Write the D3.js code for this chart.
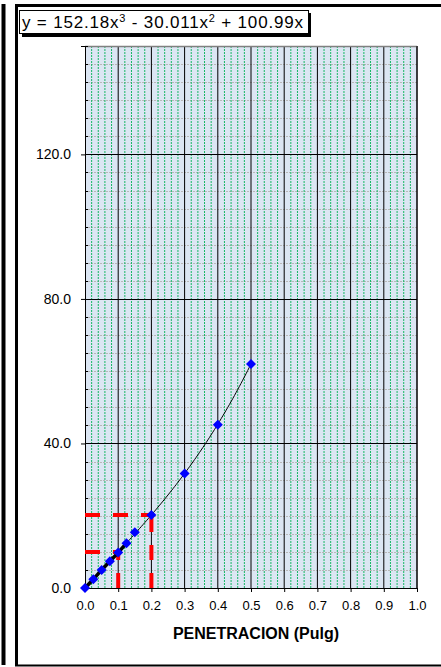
<!DOCTYPE html>
<html>
<head>
<meta charset="utf-8">
<script src="https://cdn.jsdelivr.net/npm/d3@7"></script>
<style>
  html, body { margin: 0; padding: 0; background: #fff; }
  svg { display: block; font-family: Arial, "Liberation Sans", sans-serif; }
</style>
</head>
<body>
<svg id="chart" width="441" height="667"></svg>
<script>
// Ensayo de penetración: lecturas de carga vs penetración
const penetracion = [0, 0.025, 0.05, 0.075, 0.1, 0.125, 0.15, 0.2, 0.3, 0.4, 0.5];
const carga       = [0, 2.4, 5.0, 7.4, 9.8, 12.4, 15.4, 20.2, 31.7, 45.2, 62.0];

// Coeficientes del ajuste polinómico (x^3, x^2, x)
const coefs = [152.18, -30.011, 100.99];

// Penetraciones de referencia (0.1" y 0.2")
const penRef = [0.1, 0.2];

// Ticks
const xTicks = [0, 0.1, 0.2, 0.3, 0.4, 0.5, 0.6, 0.7, 0.8, 0.9, 1.0];
const yTicks = [0, 40, 80, 120];

const fit = x => coefs[0] * x * x * x + coefs[1] * x * x + coefs[2] * x;

const svg = d3.select("#chart");
const x = d3.scaleLinear().domain([0, 1]).range([85, 417]);
const y = d3.scaleLinear().domain([0, 150]).range([588, 46]);

// Outer frames
svg.append("line").attr("x1", 3.5).attr("x2", 3.5).attr("y1", 4).attr("y2", 665)
  .attr("stroke", "#000").attr("stroke-width", 4);
svg.append("line").attr("x1", 16.5).attr("x2", 16.5).attr("y1", 4).attr("y2", 666)
  .attr("stroke", "#000").attr("stroke-width", 3);
svg.append("line").attr("x1", 15).attr("x2", 441).attr("y1", 5.5).attr("y2", 5.5)
  .attr("stroke", "#000").attr("stroke-width", 3);
svg.append("line").attr("x1", 15).attr("x2", 441).attr("y1", 665.5).attr("y2", 665.5)
  .attr("stroke", "#000").attr("stroke-width", 2);

// Plot background
svg.append("rect")
  .attr("x", x(0)).attr("y", y(150))
  .attr("width", x(1) - x(0)).attr("height", y(0) - y(150))
  .attr("fill", "#dce6f3");

// Minor horizontal grid (every 5)
const yMinor = d3.range(5, 150.1, 5).filter(v => v % 40 !== 0);
svg.append("g").selectAll("line").data(yMinor).join("line")
  .attr("x1", x(0)).attr("x2", x(1))
  .attr("y1", d => Math.round(y(d)) + 0.5).attr("y2", d => Math.round(y(d)) + 0.5)
  .attr("stroke", "#b8b8b8").attr("stroke-width", 1).attr("stroke-dasharray", "2,1");

// Minor vertical grid (every 0.02)
const xMinor = d3.range(0.02, 1.0, 0.02).filter(v => Math.abs(v * 10 - Math.round(v * 10)) > 1e-6);
svg.append("g").selectAll("line").data(xMinor).join("line")
  .attr("x1", d => x(d)).attr("x2", d => x(d))
  .attr("y1", y(150)).attr("y2", y(0))
  .attr("stroke", "#17b765").attr("stroke-width", 1).attr("stroke-dasharray", "2,1");

// Major vertical grid
svg.append("g").selectAll("line").data(xTicks.slice(1)).join("line")
  .attr("x1", d => x(d)).attr("x2", d => x(d))
  .attr("y1", y(150)).attr("y2", y(0))
  .attr("stroke", "#000").attr("stroke-width", 1);

// Major horizontal grid
svg.append("g").selectAll("line").data(yTicks.slice(1)).join("line")
  .attr("x1", x(0)).attr("x2", x(1))
  .attr("y1", d => Math.round(y(d)) + 0.5).attr("y2", d => Math.round(y(d)) + 0.5)
  .attr("stroke", "#000").attr("stroke-width", 1);

// Plot top border
svg.append("line").attr("x1", x(0)).attr("x2", x(1))
  .attr("y1", y(150) + 0.5).attr("y2", y(150) + 0.5)
  .attr("stroke", "#808080").attr("stroke-width", 1.5);

// Y axis
const yAxis = d3.axisLeft(y).tickValues(yTicks).tickFormat(d3.format(".1f"))
  .tickSize(4).tickPadding(10);
const gy = svg.append("g").attr("transform", `translate(${x(0)},0)`).call(yAxis);
gy.select(".domain").attr("stroke", "#000");
gy.selectAll(".tick text").attr("font-size", 14).attr("fill", "#000")
  .attr("font-family", "Arial, 'Liberation Sans', sans-serif");
// minor ticks inside
gy.append("g").selectAll("line").data(yMinor).join("line")
  .attr("x1", 0).attr("x2", 3)
  .attr("y1", d => Math.round(y(d)) + 0.5).attr("y2", d => Math.round(y(d)) + 0.5)
  .attr("stroke", "#000");

// X axis
const xAxis = d3.axisBottom(x).tickValues(xTicks).tickFormat(d3.format(".1f"))
  .tickSize(4).tickPadding(9);
const gx = svg.append("g").attr("transform", `translate(0,${y(0)})`).call(xAxis);
gx.select(".domain").attr("stroke", "#000");
gx.selectAll(".tick text").attr("font-size", 13).attr("fill", "#000")
  .attr("font-family", "Arial, 'Liberation Sans', sans-serif");

// Right border
svg.append("line").attr("x1", x(1)).attr("x2", x(1))
  .attr("y1", y(150)).attr("y2", y(0)).attr("stroke", "#000");

// X axis title
svg.append("text").attr("x", 256).attr("y", 639).attr("text-anchor", "middle")
  .attr("font-size", 16).attr("font-weight", "bold").text("PENETRACION (Pulg)");

// Reference lines at 0.1" and 0.2"
const ref = svg.append("g");
penRef.forEach(p => {
  ref.append("line").attr("x1", x(0)).attr("x2", x(p))
    .attr("y1", y(fit(p))).attr("y2", y(fit(p)))
    .attr("stroke", "#ff0000").attr("stroke-width", 4).attr("stroke-dasharray", "15,13");
  ref.append("line").attr("x1", x(p)).attr("x2", x(p))
    .attr("y1", y(0)).attr("y2", y(fit(p)))
    .attr("stroke", "#ff0000").attr("stroke-width", 4).attr("stroke-dasharray", "15,13");
});

// Fitted curve
const curvePts = d3.range(0, 0.5001, 0.005).map(v => [v, fit(v)]);
svg.append("path").datum(curvePts)
  .attr("fill", "none").attr("stroke", "#000").attr("stroke-width", 1)
  .attr("d", d3.line().x(d => x(d[0])).y(d => y(d[1])));

// Initial readings line
const pts = penetracion.map((p, i) => [p, carga[i]]);
svg.append("path").datum(pts.filter(d => d[0] <= 0.125))
  .attr("fill", "none").attr("stroke", "#000").attr("stroke-width", 3.5)
  .attr("d", d3.line().x(d => x(d[0])).y(d => y(d[1])));

// Data markers
svg.append("g").selectAll("path").data(pts).join("path")
  .attr("transform", d => `translate(${x(d[0])},${y(d[1])})`)
  .attr("d", "M0,-5L5,0L0,5L-5,0Z")
  .attr("fill", "#0000ff");

// Equation box
svg.append("rect").attr("x", 22).attr("y", 13).attr("width", 289).attr("height", 24).attr("fill", "#000");
svg.append("rect").attr("x", 19.5).attr("y", 10.5).attr("width", 289).attr("height", 23)
  .attr("fill", "#fff").attr("stroke", "#000").attr("stroke-width", 1);
const eq = svg.append("text").attr("x", 22).attr("y", 28).attr("font-size", 17).attr("fill", "#000")
  .attr("textLength", 281).attr("lengthAdjust", "spacing");
eq.append("tspan").text(`y = ${coefs[0]}x`);
eq.append("tspan").attr("font-size", 11).attr("dy", -6).text("3");
eq.append("tspan").attr("dy", 6).text(` - ${Math.abs(coefs[1])}x`);
eq.append("tspan").attr("font-size", 11).attr("dy", -6).text("2");
eq.append("tspan").attr("dy", 6).text(` + ${coefs[2]}x`);
</script>
</body>
</html>
